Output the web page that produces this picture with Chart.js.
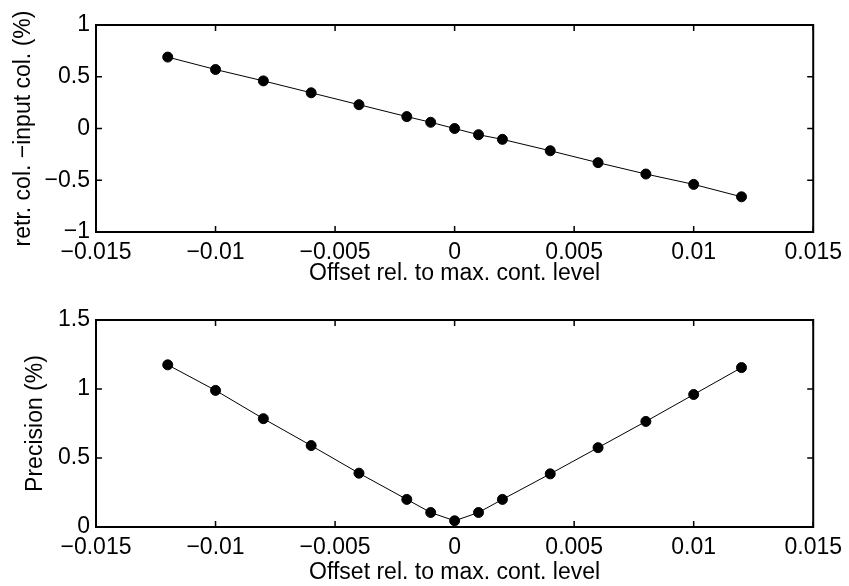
<!DOCTYPE html>
<html>
<head>
<meta charset="utf-8">
<script src="https://cdn.jsdelivr.net/npm/chart.js@4"></script>
<style>
  body { margin: 0; background: #fff; }
  canvas { position: absolute; left: 0; }
  #top { top: 0; }
  #bottom { top: 293px; }
</style>
</head>
<body>
<canvas id="top" width="849" height="293"></canvas>
<canvas id="bottom" width="849" height="293"></canvas>
<script>
// data
const offsets = [-0.012, -0.01, -0.008, -0.006, -0.004, -0.002, -0.001, 0, 0.001, 0.002, 0.004, 0.006, 0.008, 0.01, 0.012];
const colDiff = [0.69, 0.57, 0.46, 0.345, 0.23, 0.115, 0.06, 0, -0.06, -0.105, -0.215, -0.33, -0.44, -0.54, -0.66];
const precision = [1.175, 0.99, 0.785, 0.59, 0.39, 0.2, 0.105, 0.045, 0.105, 0.2, 0.385, 0.575, 0.765, 0.96, 1.155];

const xTicks = [-0.015, -0.01, -0.005, 0, 0.005, 0.01, 0.015];
const yTicksTop = [-1, -0.5, 0, 0.5, 1];
const yTicksBottom = [0, 0.5, 1, 1.5];

const xTitle = "Offset rel. to max. cont. level";

const FONT = { family: "'Liberation Sans', Arial, Helvetica, sans-serif", size: 23 };

function fmt(v) {
  return String(v).replace("-", "\u2212");
}

// matlab style box with inward ticks
const boxPlugin = {
  id: "box",
  afterDraw(chart) {
    const ctx = chart.ctx;
    const a = chart.chartArea;
    const x = chart.scales.x, y = chart.scales.y;
    ctx.save();
    ctx.strokeStyle = "#000";
    ctx.lineWidth = 1.5;
    const len = 6;
    ctx.beginPath();
    x.ticks.forEach(t => {
      const px = x.getPixelForValue(t.value);
      ctx.moveTo(px, a.bottom); ctx.lineTo(px, a.bottom - len);
      ctx.moveTo(px, a.top); ctx.lineTo(px, a.top + len);
    });
    y.ticks.forEach(t => {
      const py = y.getPixelForValue(t.value);
      ctx.moveTo(a.left, py); ctx.lineTo(a.left + len, py);
      ctx.moveTo(a.right, py); ctx.lineTo(a.right - len, py);
    });
    ctx.stroke();
    ctx.lineWidth = 2;
    ctx.strokeRect(a.left, a.top, a.right - a.left, a.bottom - a.top);
    ctx.restore();
  }
};

function makeChart(id, values, yTicks, yLabel, opts) {
  const ctx = document.getElementById(id).getContext("2d");
  return new Chart(ctx, {
    type: "line",
    data: {
      datasets: [{
        data: offsets.map((o, i) => ({ x: o, y: values[i] })),
        borderColor: "#000",
        borderWidth: 1,
        backgroundColor: "#000",
        pointBackgroundColor: "#000",
        pointBorderColor: "#000",
        pointRadius: 5,
        fill: false,
        tension: 0
      }]
    },
    options: {
      responsive: false,
      animation: false,
      layout: { padding: { top: opts.top, right: 34, left: 0, bottom: 0 } },
      plugins: { legend: { display: false }, tooltip: { enabled: false } },
      scales: {
        x: {
          type: "linear",
          min: xTicks[0],
          max: xTicks[xTicks.length - 1],
          grid: { display: false, drawTicks: false },
          border: { display: false },
          afterBuildTicks: s => { s.ticks = xTicks.map(v => ({ value: v })); },
          afterFit: s => { s.height = opts.xHeight; },
          ticks: { color: "#000", font: FONT, padding: 7, maxRotation: 0, callback: v => fmt(v) },
          title: { display: true, text: xTitle, color: "#000", font: FONT, padding: { top: 0, bottom: opts.xTitlePad } }
        },
        y: {
          min: yTicks[0],
          max: yTicks[yTicks.length - 1],
          grid: { display: false, drawTicks: false },
          border: { display: false },
          afterBuildTicks: s => { s.ticks = yTicks.map(v => ({ value: v })); },
          afterFit: s => { s.width = 96; },
          ticks: { color: "#000", font: FONT, padding: 6, callback: v => fmt(v) },
          title: { display: true, text: yLabel, color: "#000", font: FONT, padding: { top: opts.yTitlePad, bottom: 0 } }
        }
      }
    },
    plugins: [boxPlugin]
  });
}

makeChart("top", colDiff, yTicksTop, "retr. col. \u2212input col. (%)",
  { top: 25, xHeight: 61, xTitlePad: 6, yTitlePad: 10 });
makeChart("bottom", precision, yTicksBottom, "Precision (%)",
  { top: 27, xHeight: 59, xTitlePad: 0, yTitlePad: 22 });
</script>
</body>
</html>
